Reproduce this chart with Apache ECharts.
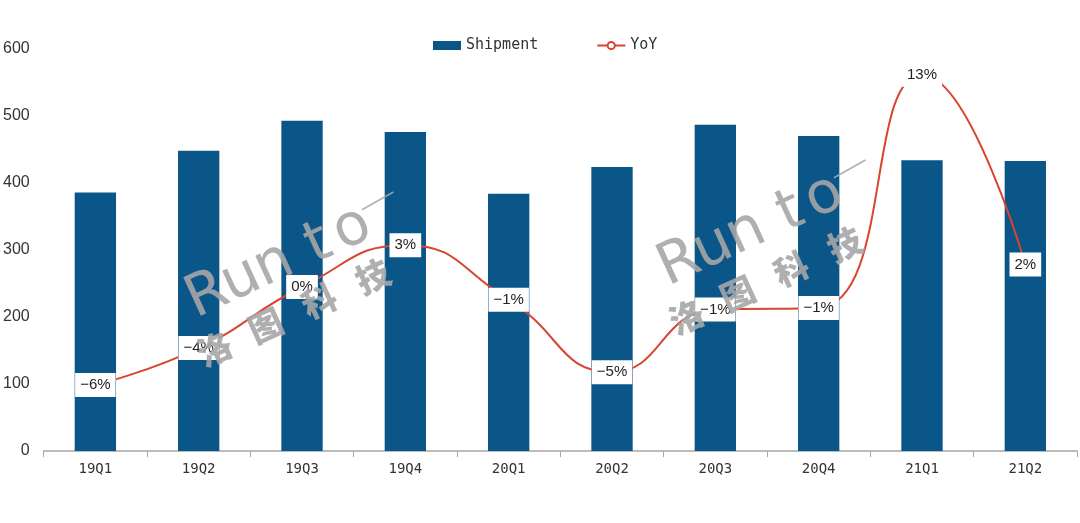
<!DOCTYPE html>
<html>
<head>
<meta charset="utf-8">
<script src="https://cdn.jsdelivr.net/npm/echarts@6/dist/echarts.min.js"></script>
<style>
  html, body { margin: 0; padding: 0; background: #fff; }
  #chart { width: 1080px; height: 523px; }
</style>
</head>
<body>
<div id="chart"></div>
<script>
var quarters = ['19Q1', '19Q2', '19Q3', '19Q4', '20Q1', '20Q2', '20Q3', '20Q4', '21Q1', '21Q2'];
var shipment = [386, 448, 493, 476, 384, 424, 487, 470, 434, 433];
var yoy = [-5.9, -3.6, 0.2, 2.8, -0.6, -5.1, -1.2, -1.1, 13.4, 1.6];
var yTicks = [0, 600, 100];

var chart = echarts.init(document.getElementById('chart'));

// watermark logo, letters placed one by one in a rotated group
var wmColor = 'rgba(166,166,166,0.9)';
var wmLetters = ['R', 'u', 'n', 't', 'o'];
var wmLetterX = [0, 37, 73, 122, 159];
var wmChars = ['洛', '图', '科', '技'];
var wmCharX = [-16, 40, 99, 158];

function watermark(x, y) {
    var children = [];
    wmLetters.forEach(function (ch, i) {
        children.push({
            type: 'text',
            x: wmLetterX[i], y: 2,
            z: 100,
            style: {
                text: ch,
                fontFamily: 'DejaVu Sans',
                fontSize: 58,
                fill: wmColor,
                align: 'center',
                verticalAlign: 'middle'
            }
        });
    });
    wmChars.forEach(function (ch, i) {
        children.push({
            type: 'text',
            x: wmCharX[i], y: 53,
            z: 100,
            style: {
                text: ch,
                fontFamily: 'Noto Sans CJK SC',
                fontWeight: 900,
                fontSize: 34,
                fill: wmColor,
                align: 'center',
                verticalAlign: 'middle'
            }
        });
    });
    children.push({
        type: 'line',
        z: 100,
        shape: { x1: 176, y1: -12, x2: 212, y2: -15 },
        style: { stroke: wmColor, lineWidth: 1.5 }
    });
    return {
        type: 'group',
        x: x,
        y: y,
        rotation: 0.43,
        z: 100,
        children: children
    };
}

var option = {
    animation: false,
    backgroundColor: '#fff',
    grid: { left: 42, right: 3, top: 49, bottom: 72 },
    legend: {
        top: 33,
        left: 428,
        itemGap: 58,
        itemWidth: 28,
        itemHeight: 9,
        textStyle: { fontFamily: 'DejaVu Sans Mono', fontSize: 15, color: '#333' },
        data: [
            { name: 'Shipment', icon: 'rect' },
            { name: 'YoY' }
        ]
    },
    xAxis: {
        type: 'category',
        data: quarters,
        axisLine: { lineStyle: { color: '#a6a6a6', width: 1.5 } },
        axisTick: { show: true, length: 6, lineStyle: { color: '#a6a6a6' } },
        axisLabel: { fontFamily: 'DejaVu Sans Mono', fontSize: 14, color: '#333', margin: 11 }
    },
    yAxis: [{
        type: 'value',
        min: yTicks[0],
        max: yTicks[1],
        interval: yTicks[2],
        axisLine: { show: false },
        axisTick: { show: false },
        splitLine: { show: false },
        axisLabel: { fontFamily: 'Liberation Sans', fontSize: 16, color: '#333', margin: 14 }
    }, {
        type: 'value',
        min: -10,
        max: 15,
        show: false,
        splitLine: { show: false }
    }],
    series: [{
        name: 'Shipment',
        type: 'bar',
        data: shipment,
        barWidth: '40%',
        itemStyle: { color: '#0a5689' }
    }, {
        name: 'YoY',
        type: 'line',
        yAxisIndex: 1,
        data: yoy,
        smooth: 0.5,
        symbol: 'emptyCircle',
        symbolSize: 6,
        lineStyle: { color: '#d9452e', width: 2 },
        itemStyle: { color: '#d9452e' },
        z: 5,
        label: {
            show: true,
            position: 'inside',
            fontFamily: 'Liberation Sans',
            fontSize: 15,
            color: '#222',
            backgroundColor: '#fff',
            padding: [5, 5, 4, 5],
            formatter: function (p) {
                var v = Math.round(p.value);
                return (v < 0 ? '\u2212' + Math.abs(v) : String(Math.abs(v))) + '%';
            }
        }
    }],
    graphic: [watermark(207, 294), watermark(679, 262)]
};

chart.setOption(option);
</script>
</body>
</html>
